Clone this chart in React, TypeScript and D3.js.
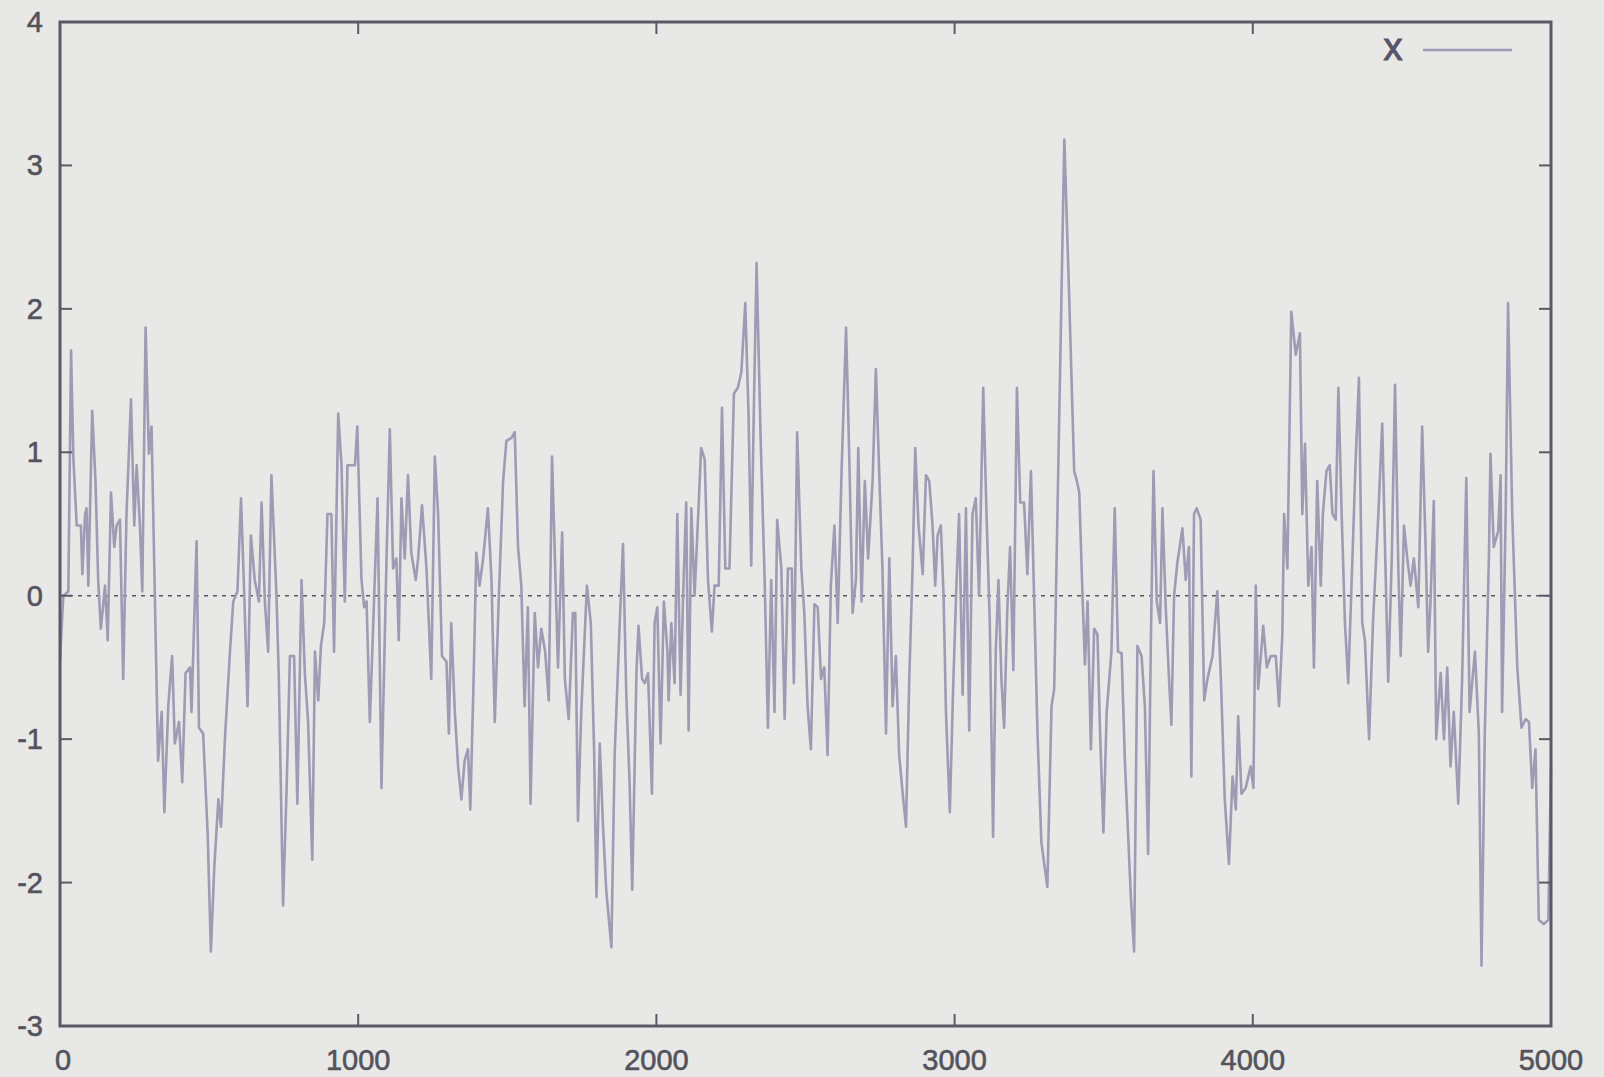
import React from "react";
import * as d3 from "d3";

const sampleIndex: number[] = [
  0, 11, 28, 37, 45, 56, 70, 75, 84, 89, 95, 108, 119, 128, 137, 151, 160, 171, 182, 190, 201, 212, 223, 238, 249, 257, 268, 276, 287, 298, 307, 318, 329, 341, 350, 363, 376, 385, 399, 410, 421, 436, 441, 458, 466, 480, 495, 506, 517, 531, 540, 553, 570, 581, 595, 607, 618, 629, 640, 653, 667, 676, 687, 698, 709, 726, 734, 748, 760, 771, 785, 796, 810,
  821, 832, 846, 855, 866, 875, 886, 897, 910, 919, 933, 944, 955, 964, 989, 997, 1011, 1020, 1028, 1039, 1053, 1065, 1078, 1095, 1106, 1117, 1128, 1136, 1145, 1156, 1167, 1178, 1193, 1201, 1214, 1229, 1245, 1257, 1268, 1281, 1296, 1304, 1312, 1324, 1335, 1346, 1357, 1368, 1376, 1387, 1396, 1407, 1419, 1435, 1447, 1458, 1471, 1486, 1497, 1514, 1525, 1536, 1547, 1558, 1569, 1578, 1592, 1603, 1614, 1627, 1639, 1650,
  1670, 1684, 1693, 1706, 1720, 1728, 1737, 1748, 1767, 1780, 1791, 1799, 1810, 1821, 1832, 1849, 1860, 1877, 1888, 1899, 1910, 1919, 1933, 1940, 1952, 1961, 1972, 1985, 1994, 2003, 2014, 2025, 2037, 2041, 2050, 2061, 2070, 2081, 2090, 2100, 2108, 2117, 2128, 2142, 2150, 2162, 2173, 2186, 2195, 2209, 2220, 2231, 2245, 2260, 2273, 2285, 2298, 2309, 2318, 2327, 2336, 2349, 2363, 2374, 2385, 2396, 2405, 2419, 2430, 2441, 2454, 2461, 2472, 2486,
  2496, 2507, 2518, 2530, 2541, 2552, 2563, 2574, 2585, 2597, 2608, 2621, 2636, 2647, 2658, 2669, 2677, 2688, 2699, 2710, 2725, 2736, 2747, 2758, 2770, 2781, 2792, 2803, 2814, 2826, 2837, 2848, 2859, 2868, 2879, 2893, 2904, 2915, 2926, 2935, 2943, 2954, 2963, 2971, 2984, 2995, 3006, 3015, 3027, 3038, 3049, 3060, 3071, 3082, 3096, 3107, 3118, 3129, 3138, 3147, 3157, 3166, 3177, 3186, 3197, 3209, 3220, 3233, 3244, 3256, 3267, 3278, 3291, 3311, 3325,
  3334, 3368, 3384, 3401, 3410, 3418, 3429, 3437, 3446, 3457, 3468, 3479, 3488, 3499, 3510, 3526, 3537, 3548, 3560, 3571, 3591, 3602, 3613, 3627, 3638, 3649, 3658, 3667, 3678, 3689, 3697, 3708, 3719, 3727, 3736, 3747, 3764, 3775, 3786, 3794, 3803, 3812, 3825, 3837, 3848, 3865, 3881, 3893, 3906, 3920, 3932, 3943, 3951, 3962, 3976, 3993, 4002, 4010, 4018, 4035, 4047, 4060, 4077, 4088, 4099, 4105, 4116, 4129, 4144, 4158,
  4166, 4175, 4186, 4197, 4205, 4216, 4228, 4235, 4247, 4258, 4267, 4278, 4287, 4298, 4309, 4320, 4331, 4345, 4356, 4367, 4376, 4390, 4403, 4421, 4434, 4445, 4454, 4466, 4477, 4488, 4496, 4507, 4518, 4529, 4540, 4555, 4568, 4579, 4588, 4596, 4607, 4615, 4630, 4641, 4652, 4663, 4674, 4689, 4702, 4716, 4727, 4745, 4758, 4767, 4778, 4792, 4797, 4808, 4823, 4831, 4836, 4848, 4856, 4870, 4887, 4901, 4915, 4926, 4937, 4948, 4959, 4976, 4991, 5000,
];

const xValues: number[] = [
  -0.46, 0.0, 0.03, 1.71, 0.95, 0.49, 0.49, 0.15, 0.57, 0.61, 0.07, 1.29, 0.8, 0.11, -0.23, 0.07, -0.31, 0.72, 0.34, 0.49, 0.53, -0.58, 0.57, 1.37, 0.49, 0.91, 0.49, 0.03, 1.87, 0.99, 1.18, 0.0, -1.15, -0.81, -1.51, -0.77, -0.42, -1.03, -0.88, -1.3, -0.54, -0.5, -0.81, 0.38, -0.92, -0.96, -1.65, -2.48, -1.91, -1.42, -1.61, -1.0, -0.39, -0.04, 0.03, 0.68, 0.0, -0.77, 0.42, 0.11, -0.04, 0.65, -0.04, -0.39, 0.84, 0.0, -0.58, -2.16, -1.34, -0.42, -0.42, -1.45, 0.11,
  -0.54, -0.88, -1.84, -0.39, -0.73, -0.35, -0.19, 0.57, 0.57, -0.39, 1.27, 0.91, -0.04, 0.91, 0.91, 1.18, 0.11, -0.08, -0.04, -0.88, -0.04, 0.68, -1.34, 0.26, 1.16, 0.19, 0.26, -0.31, 0.68, 0.26, 0.84, 0.3, 0.11, 0.26, 0.63, 0.19, -0.58, 0.97, 0.57, -0.42, -0.46, -0.96, -0.19, -0.81, -1.19, -1.42, -1.15, -1.07, -1.49, -0.58, 0.3, 0.07, 0.26, 0.61, 0.11, -0.88, -0.04, 0.8, 1.08, 1.1, 1.14, 0.34, 0.07, -0.77, -0.08, -1.45, -0.12, -0.5, -0.23, -0.39, -0.73, 0.97,
  -0.5, 0.44, -0.58, -0.86, -0.12, -0.12, -1.57, -0.81, 0.07, -0.19, -1.07, -2.1, -1.03, -1.61, -2.06, -2.45, -1.11, -0.19, 0.36, -0.69, -1.3, -2.05, -0.54, -0.21, -0.58, -0.61, -0.54, -1.38, -0.19, -0.08, -1.03, -0.04, -0.39, -0.73, -0.19, -0.61, 0.57, -0.69, 0.03, 0.65, -0.94, 0.61, 0.0, 0.65, 1.03, 0.95, 0.11, -0.25, 0.07, 0.07, 1.31, 0.19, 0.19, 1.41, 1.45, 1.56, 2.04, 1.26, 0.21, 1.33, 2.32, 1.14, 0.11, -0.92, 0.11, -0.81, 0.53, 0.19, -0.86, 0.19, 0.19, -0.61, 1.14, 0.19,
  -0.12, -0.77, -1.07, -0.06, -0.08, -0.58, -0.5, -1.11, 0.07, 0.49, -0.19, 0.87, 1.87, 0.95, -0.12, 0.11, 1.03, -0.04, 0.8, 0.26, 0.8, 1.58, 0.87, 0.19, -0.96, 0.26, -0.77, -0.42, -1.11, -1.38, -1.61, -0.58, 0.19, 1.03, 0.49, 0.15, 0.84, 0.8, 0.49, 0.07, 0.42, 0.49, 0.0, -0.81, -1.51, -0.65, 0.07, 0.57, -0.69, 0.61, -0.94, 0.57, 0.68, 0.0, 1.45, 0.57, -0.19, -1.68, -0.39, 0.11, -0.58, -0.92, -0.08, 0.34, -0.52, 1.45, 0.65, 0.65, 0.15, 0.87, -0.04, -0.96, -1.72, -2.03, -0.77,
  -0.65, 3.18, 2.1, 0.87, 0.8, 0.72, 0.0, -0.48, -0.04, -1.07, -0.23, -0.27, -0.96, -1.65, -0.81, -0.39, 0.61, -0.39, -0.4, -1.15, -2.1, -2.48, -0.35, -0.42, -0.77, -1.8, -0.35, 0.87, -0.04, -0.19, 0.61, -0.08, -0.58, -0.9, 0.0, 0.23, 0.47, 0.11, 0.34, -1.26, 0.57, 0.61, 0.53, -0.73, -0.58, -0.42, 0.03, -0.58, -1.42, -1.87, -1.26, -1.49, -0.84, -1.38, -1.34, -1.19, -1.34, 0.07, -0.65, -0.21, -0.5, -0.42, -0.42, -0.77, -0.27, 0.57, 0.19, 1.98, 1.68, 1.83,
  0.57, 1.06, 0.07, 0.34, -0.5, 0.8, 0.07, 0.57, 0.87, 0.91, 0.57, 0.53, 1.45, 0.57, -0.19, -0.61, 0.07, 0.95, 1.52, -0.19, -0.31, -1.0, -0.19, 0.57, 1.2, 0.19, -0.6, 0.26, 1.47, 0.19, -0.42, 0.49, 0.26, 0.07, 0.26, -0.08, 1.18, 0.38, -0.39, -0.04, 0.66, -1.0, -0.54, -1.0, -0.5, -1.19, -0.81, -1.45, -0.58, 0.82, -0.81, -0.39, -0.96, -2.58, -0.96, 0.3, 0.99, 0.34, 0.45, 0.84, -0.81, 0.57, 2.04, 0.57, -0.5, -0.92, -0.86, -0.88, -1.34, -1.07, -2.26, -2.29, -2.26, -1.19,
];

const xTicks: number[] = [0, 1000, 2000, 3000, 4000, 5000];
const yTicks: number[] = [-3, -2, -1, 0, 1, 2, 3, 4];
const legendLabel = "x";

const W = 1604;
const H = 1077;
const left = 60;
const right = 1551;
const top = 22;
const bottom = 1026;

export default function App() {
  const xs = d3.scaleLinear().domain([0, 5000]).range([left, right]);
  const ys = d3.scaleLinear().domain([-3, 4]).range([bottom, top]);
  const pts: [number, number][] = sampleIndex.map((d, i) => [d, xValues[i]]);
  const line = d3
    .line<[number, number]>()
    .x((d) => xs(d[0]))
    .y((d) => ys(d[1]));

  const axisColor = "#5b5966";
  const textColor = "#54535c";
  const font = "'Liberation Sans', Arial, sans-serif";
  const tickLen = 12;

  return (
    <svg
      width={W}
      height={H}
      style={{ position: "absolute", left: 0, top: 0, background: "#e8e9e6" }}
    >
      <rect x={0} y={0} width={W} height={H} fill="#e8e9e6" />
      <line
        x1={left}
        x2={right}
        y1={ys(0)}
        y2={ys(0)}
        stroke="#5a5860"
        strokeWidth={1.5}
        strokeDasharray="4,5"
      />
      <path
        d={line(pts) || ""}
        fill="none"
        stroke="#a09ab4"
        strokeWidth={2.6}
        strokeLinejoin="round"
      />
      <rect
        x={left}
        y={top}
        width={right - left}
        height={bottom - top}
        fill="none"
        stroke={axisColor}
        strokeWidth={3}
      />
      {xTicks.map((t) => (
        <g key={"xt" + t}>
          <line x1={xs(t)} x2={xs(t)} y1={bottom} y2={bottom - tickLen} stroke={axisColor} strokeWidth={2} />
          <line x1={xs(t)} x2={xs(t)} y1={top} y2={top + tickLen} stroke={axisColor} strokeWidth={2} />
          <text
            x={xs(t) + (t === 0 ? 3 : 0)}
            y={1070}
            textAnchor="middle"
            fontFamily={font}
            fontSize={29}
            fill={textColor}
            stroke={textColor}
            strokeWidth={0.6}
          >
            {t}
          </text>
        </g>
      ))}
      {yTicks.map((t) => (
        <g key={"yt" + t}>
          <line x1={left} x2={left + tickLen} y1={ys(t)} y2={ys(t)} stroke={axisColor} strokeWidth={2} />
          <line x1={right} x2={right - tickLen} y1={ys(t)} y2={ys(t)} stroke={axisColor} strokeWidth={2} />
          <text
            x={43}
            y={ys(t) + 10}
            textAnchor="end"
            fontFamily={font}
            fontSize={29}
            fill={textColor}
            stroke={textColor}
            strokeWidth={0.6}
          >
            {t}
          </text>
        </g>
      ))}
      <text
        x={1393}
        y={60}
        textAnchor="middle"
        fontFamily={font}
        fontSize={38}
        fill="#5a5468"
        stroke="#5a5468"
        strokeWidth={1}
      >
        {legendLabel}
      </text>
      <line x1={1423} x2={1512} y1={50} y2={50} stroke="#a09ab4" strokeWidth={2.6} />
    </svg>
  );
}
